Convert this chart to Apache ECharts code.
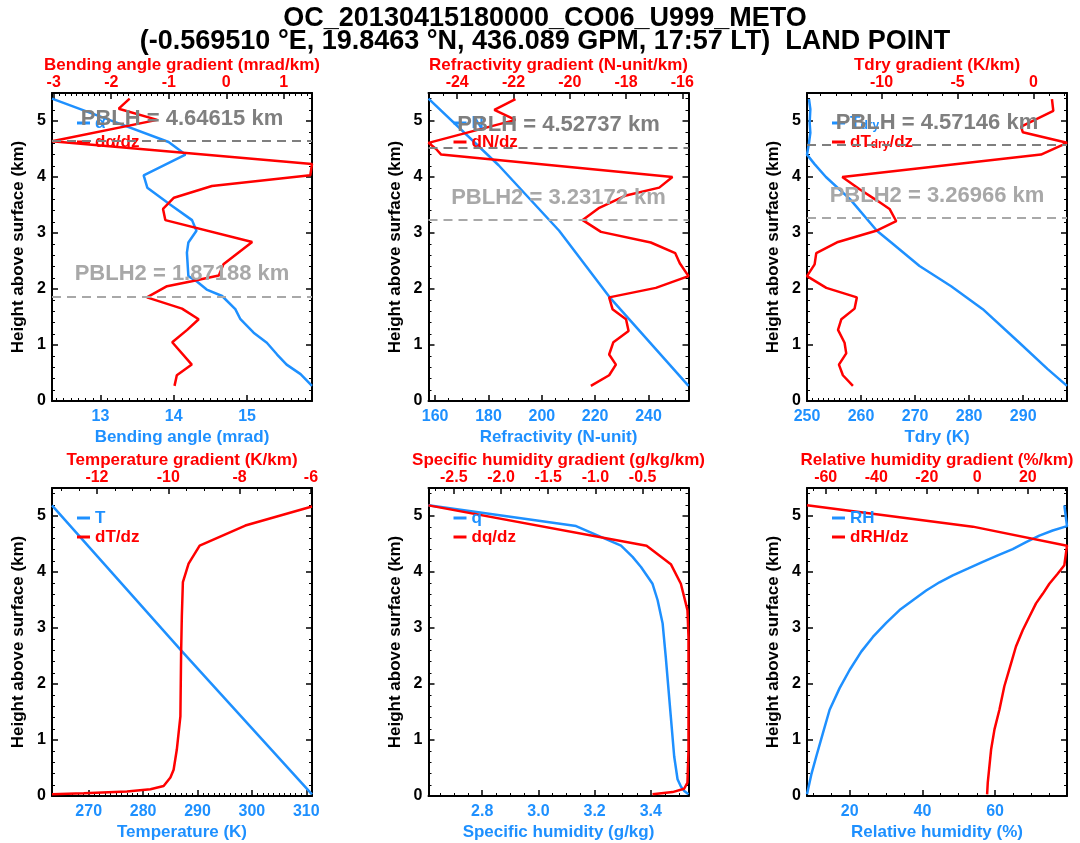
<!DOCTYPE html>
<html>
<head>
<meta charset="utf-8">
<title>OC_20130415180000_CO06_U999_METO</title>
<script src="https://cdn.jsdelivr.net/npm/echarts@6/dist/echarts.min.js"></script>
<style>
html, body { margin: 0; padding: 0; background: #fff; }
#main { width: 1080px; height: 843px; }
</style>
</head>
<body>
<div id="main"></div>
<script>
// ---- profiles (height above surface in km, value) ----
// bending angle
var bendHeight = [5.40, 5.01, 4.625, 4.40, 4.03, 3.81, 3.51, 3.23, 3.04, 2.83, 2.65, 2.23, 2.13, 1.99, 1.875, 1.64, 1.46, 1.22, 1.04, 0.83, 0.65, 0.48, 0.27];
var bendAngle  = [12.34, 13.14, 13.93, 14.16, 13.59, 13.64, 13.95, 14.25, 14.31, 14.20, 14.18, 14.20, 14.32, 14.45, 14.66, 14.84, 14.91, 15.09, 15.27, 15.41, 15.54, 15.73, 15.886];
var bendGradHeight = [5.40, 5.22, 5.02, 4.64, 4.23, 4.03, 3.84, 3.63, 3.43, 3.23, 2.84, 2.44, 2.24, 2.14, 2.05, 1.85, 1.65, 1.46, 1.27, 1.05, 0.65, 0.46, 0.27];
var bendGrad       = [-1.68, -1.87, -1.20, -3.03, 1.49, 1.46, -0.25, -0.91, -1.10, -1.06, 0.45, -0.05, -0.13, -0.60, -1.03, -1.38, -0.77, -0.48, -0.68, -0.94, -0.60, -0.86, -0.90];
// refractivity
var refrHeight = [5.40, 4.21, 3.04, 1.86, 0.27];
var refr       = [157.5, 183.8, 206.5, 225.3, 255.0];
var refrGradHeight = [5.39, 5.20, 5.02, 4.61, 4.50, 4.40, 4.00, 3.81, 3.67, 3.45, 3.23, 3.02, 2.83, 2.64, 2.46, 2.23, 2.02, 1.85, 1.64, 1.46, 1.25, 1.05, 0.83, 0.65, 0.46, 0.27];
var refrGrad       = [-21.93, -22.68, -21.93, -25.02, -24.75, -24.57, -16.35, -16.82, -18.0, -18.95, -19.54, -18.89, -17.12, -16.25, -16.09, -15.78, -16.94, -18.60, -18.48, -18.0, -17.91, -18.45, -18.60, -18.36, -18.60, -19.25];
// dry temperature
var tdryHeight = [5.39, 5.21, 4.97, 4.79, 4.61, 4.40, 4.23, 4.00, 3.60, 3.04, 2.83, 2.41, 2.05, 1.64, 1.04, 0.57, 0.27];
var tdry       = [250.37, 250.62, 250.49, 250.62, 250.37, 250.0, 251.4, 253.5, 258.0, 262.93, 265.58, 270.82, 276.67, 282.52, 289.29, 294.53, 298.1];
var tdryGradHeight = [5.39, 5.18, 4.90, 4.80, 4.61, 4.40, 4.00, 3.78, 3.57, 3.43, 3.21, 3.04, 2.84, 2.64, 2.44, 2.23, 2.02, 1.85, 1.65, 1.46, 1.27, 1.04, 0.85, 0.65, 0.46, 0.27];
var tdryGrad       = [1.21, 1.30, -0.82, -0.71, 2.2, 0.49, -12.58, -11.44, -10.24, -9.47, -9.03, -10.35, -12.86, -14.29, -14.40, -14.9, -13.63, -11.62, -11.77, -12.64, -12.86, -12.43, -12.32, -12.80, -12.54, -11.88];
// temperature
var tempHeight = [5.19, 2.61, 0.03];
var temp       = [263.25, 286.9, 311.05];
var tempGradHeight = [5.17, 4.83, 4.47, 4.15, 3.82, 3.20, 2.55, 1.42, 0.83, 0.47, 0.33, 0.18, 0.12, 0.08, 0.05, 0.03];
var tempGrad       = [-5.97, -7.84, -9.12, -9.43, -9.59, -9.62, -9.64, -9.66, -9.76, -9.85, -9.94, -10.13, -10.50, -11.16, -12.37, -13.26];
// specific humidity
var qHeight = [5.19, 4.82, 4.47, 4.27, 4.09, 3.79, 3.50, 3.08, 2.49, 1.42, 0.71, 0.30, 0.17, 0.09, 0.03];
var q       = [2.609, 3.134, 3.294, 3.335, 3.365, 3.406, 3.424, 3.442, 3.453, 3.471, 3.483, 3.495, 3.507, 3.519, 3.534];
var qGradHeight = [5.19, 4.47, 4.14, 3.79, 3.32, 2.84, 0.83, 0.24, 0.13, 0.07, 0.03];
var qGrad       = [-2.768, -0.458, -0.201, -0.095, -0.025, -0.014, -0.014, -0.025, -0.060, -0.183, -0.395];
// relative humidity
var rhHeight = [0.03, 0.385, 0.71, 1.126, 1.54, 1.926, 2.25, 2.578, 2.84, 3.093, 3.32, 3.496, 3.67, 3.816, 3.94, 4.059, 4.18, 4.296, 4.41, 4.533, 4.65, 4.741, 4.82, 5.19];
var rh       = [8.23, 9.42, 10.80, 12.63, 14.46, 17.21, 19.96, 23.17, 26.37, 30.04, 33.71, 37.37, 41.04, 44.70, 48.37, 52.49, 56.62, 60.74, 64.86, 68.53, 72.19, 75.86, 79.8, 79.07];
var rhGradHeight = [5.19, 4.81, 4.47, 4.12, 3.97, 3.79, 3.61, 3.44, 3.20, 2.96, 2.67, 2.37, 1.96, 1.54, 1.19, 0.83, 0.24, 0.03];
var rhGrad       = [-67.4, -1.79, 35.5, 34.44, 31.8, 28.51, 25.9, 23.24, 20.6, 17.97, 15.3, 13.36, 10.7, 8.75, 6.8, 5.46, 4.14, 3.88];
// boundary layer heights (top row panels)
var pblh  = [4.64615, 4.52737, 4.57146];
var pblh2 = [1.87188, 3.23172, 3.26966];

var BLUE = '#1e90ff', RED = '#ff0000';
var FONT = '"Liberation Sans", Arial, Helvetica, sans-serif';

var panels = [
	{left: 52, top: 93,
	 bottom: {min: 12.34, max: 15.886, step: 1, minor: 10, dec: 0, showMin: false, name: 'Bending angle (mrad)'},
	 topAx:  {min: -3.03, max: 1.49, step: 1, minor: 10, dec: 0, showMin: false, name: 'Bending angle gradient (mrad/km)'},
	 blue: {name: 'α', h: bendHeight, v: bendAngle},
	 red:  {name: 'dα/dz', h: bendGradHeight, v: bendGrad}},
	{left: 428.5, top: 93,
	 bottom: {min: 157.5, max: 255, step: 20, minor: 4, dec: 0, showMin: false, name: 'Refractivity (N-unit)'},
	 topAx:  {min: -25.02, max: -15.78, step: 2, minor: 4, dec: 0, showMin: false, name: 'Refractivity gradient (N-unit/km)'},
	 blue: {name: 'N', h: refrHeight, v: refr},
	 red:  {name: 'dN/dz', h: refrGradHeight, v: refrGrad}},
	{left: 807, top: 93,
	 bottom: {min: 250, max: 298.1, step: 10, minor: 10, dec: 0, showMin: true, name: 'Tdry (K)'},
	 topAx:  {min: -14.9, max: 2.2, step: 5, minor: 5, dec: 0, showMin: false, name: 'Tdry gradient (K/km)'},
	 blue: {name: 'Tdry', h: tdryHeight, v: tdry},
	 red:  {name: 'dTdry/dz', h: tdryGradHeight, v: tdryGrad}},
	{left: 52, top: 488,
	 bottom: {min: 263.25, max: 311.05, step: 10, minor: 10, dec: 0, showMin: false, name: 'Temperature (K)'},
	 topAx:  {min: -13.26, max: -5.97, step: 2, minor: 4, dec: 0, showMin: false, name: 'Temperature gradient (K/km)'},
	 blue: {name: 'T', h: tempHeight, v: temp},
	 red:  {name: 'dT/dz', h: tempGradHeight, v: tempGrad}},
	{left: 428.5, top: 488,
	 bottom: {min: 2.609, max: 3.534, step: 0.2, minor: 4, dec: 1, showMin: false, name: 'Specific humidity (g/kg)'},
	 topAx:  {min: -2.768, max: -0.014, step: 0.5, minor: 5, dec: 1, showMin: false, name: 'Specific humidity gradient (g/kg/km)'},
	 blue: {name: 'q', h: qHeight, v: q},
	 red:  {name: 'dq/dz', h: qGradHeight, v: qGrad}},
	{left: 807, top: 488,
	 bottom: {min: 8.23, max: 79.8, step: 20, minor: 4, dec: 0, showMin: false, name: 'Relative humidity (%)'},
	 topAx:  {min: -67.4, max: 35.5, step: 20, minor: 4, dec: 0, showMin: false, name: 'Relative humidity gradient (%/km)'},
	 blue: {name: 'RH', h: rhHeight, v: rh},
	 red:  {name: 'dRH/dz', h: rhGradHeight, v: rhGrad}}
];

function pairs(h, v) {
	var out = [];
	for (var i = 0; i < h.length; i++) out.push([v[i], h[i]]);
	return out;
}

function xAx(g, pos, ax, color) {
	var isBottom = pos === 'bottom';
	return {
		type: 'value', gridIndex: g, position: pos,
		min: ax.min, max: ax.max, minInterval: ax.step, maxInterval: ax.step,
		name: ax.name, nameLocation: 'middle', nameGap: isBottom ? 28 : 15,
		nameTextStyle: {color: color, fontSize: 17, fontWeight: 'bold', fontFamily: FONT},
		axisLine: {onZero: false, lineStyle: {color: '#000', width: 2}},
		axisTick: {inside: true, length: 6, lineStyle: {color: '#000', width: 1.5}},
		minorTick: {show: true, splitNumber: ax.minor, length: 3, lineStyle: {color: '#000', width: 1}},
		splitLine: {show: false},
		axisLabel: {color: color, fontSize: 16, fontWeight: 'bold', fontFamily: FONT, margin: isBottom ? 8 : 2,
			showMinLabel: ax.showMin, showMaxLabel: false,
			formatter: function (v) { return v.toFixed(ax.dec); }}
	};
}

function yAx(g, pos) {
	return {
		type: 'value', gridIndex: g, position: pos,
		min: 0, max: 5.5, minInterval: 1, maxInterval: 1,
		name: pos === 'left' ? 'Height above surface (km)' : '',
		nameLocation: 'middle', nameGap: 25, nameRotate: 90,
		nameTextStyle: {color: '#000', fontSize: 17, fontWeight: 'bold', fontFamily: FONT},
		axisLine: {onZero: false, lineStyle: {color: '#000', width: 2}},
		axisTick: {inside: true, length: 6, lineStyle: {color: '#000', width: 1.5}},
		minorTick: {show: true, splitNumber: 5, length: 3, lineStyle: {color: '#000', width: 1}},
		splitLine: {show: false},
		axisLabel: {show: pos === 'left', color: '#000', fontSize: 16, fontWeight: 'bold', fontFamily: FONT,
			margin: 6, showMaxLabel: false}
	};
}

function pblhLine(value, label, color) {
	return {
		yAxis: value,
		lineStyle: {color: color, type: [9, 6], width: 2},
		label: {show: true, position: 'insideMiddleTop', distance: 11, formatter: label + ' = ' + value + ' km',
			color: color, fontSize: 22, fontWeight: 'bold', fontFamily: FONT}
	};
}

var grids = [], xAxes = [], yAxes = [], legends = [], series = [];
for (var g = 0; g < panels.length; g++) {
	var p = panels[g];
	grids.push({left: p.left, top: p.top, width: 260, height: 308});
	xAxes.push(xAx(g, 'bottom', p.bottom, BLUE));
	xAxes.push(xAx(g, 'top', p.topAx, RED));
	yAxes.push(yAx(g, 'left'));
	yAxes.push(yAx(g, 'right'));
	legends.push({
		orient: 'vertical', left: p.left + 25, top: p.top + 21, padding: 0, itemGap: 1,
		itemWidth: 13, itemHeight: 3, icon: 'rect', selectedMode: false,
		data: [{name: p.blue.name, textStyle: {color: BLUE}}, {name: p.red.name, textStyle: {color: RED}}],
		textStyle: {fontSize: 17, fontWeight: 'bold', fontFamily: FONT, lineHeight: 18,
			rich: {
				b: {color: BLUE, fontSize: 17, fontWeight: 'bold', fontFamily: FONT},
				bs: {color: BLUE, fontSize: 12, fontWeight: 'bold', fontFamily: FONT, lineHeight: 8, verticalAlign: 'bottom'},
				r: {color: RED, fontSize: 17, fontWeight: 'bold', fontFamily: FONT},
				rs: {color: RED, fontSize: 12, fontWeight: 'bold', fontFamily: FONT, lineHeight: 8, verticalAlign: 'bottom'}
			}},
		formatter: function (name) {
			if (name === 'Tdry') return '{b|T}{bs|dry}';
			if (name === 'dTdry/dz') return '{r|dT}{rs|dry}{r|/dz}';
			return name;
		}
	});
	var blueSeries = {
		type: 'line', name: p.blue.name, xAxisIndex: 2 * g, yAxisIndex: 2 * g,
		data: pairs(p.blue.h, p.blue.v), symbol: 'none',
		lineStyle: {color: BLUE, width: 2.5}, itemStyle: {color: BLUE}
	};
	if (g < 3) {
		blueSeries.markLine = {
			silent: true, symbol: ['none', 'none'],
			data: [pblhLine(pblh[g], 'PBLH', '#7f7f7f'), pblhLine(pblh2[g], 'PBLH2', '#a8a8a8')]
		};
	}
	series.push(blueSeries);
	series.push({
		type: 'line', name: p.red.name, xAxisIndex: 2 * g + 1, yAxisIndex: 2 * g,
		data: pairs(p.red.h, p.red.v), symbol: 'none',
		lineStyle: {color: RED, width: 2.5}, itemStyle: {color: RED}
	});
}

var chart = echarts.init(document.getElementById('main'), null, {renderer: 'canvas'});
chart.setOption({
	backgroundColor: '#fff',
	animation: false,
	title: [
		{text: 'OC_20130415180000_CO06_U999_METO', left: 545, textAlign: 'center', top: 5, padding: 0,
		 textStyle: {fontSize: 27, fontWeight: 'bold', color: '#000', fontFamily: FONT}},
		{text: '(-0.569510 °E, 19.8463 °N, 436.089 GPM, 17:57 LT)  LAND POINT', left: 545, textAlign: 'center', top: 28, padding: 0,
		 textStyle: {fontSize: 27, fontWeight: 'bold', color: '#000', fontFamily: FONT}}
	],
	grid: grids,
	xAxis: xAxes,
	yAxis: yAxes,
	legend: legends,
	series: series
});
</script>
</body>
</html>
